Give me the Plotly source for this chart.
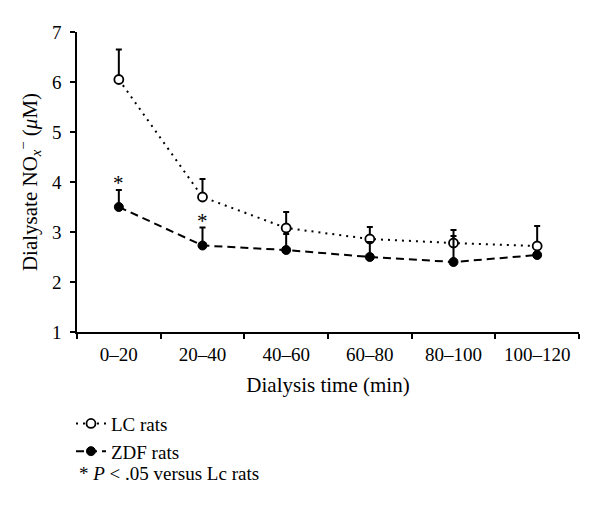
import plotly.graph_objects as go

categories = ["0–20", "20–40", "40–60", "60–80", "80–100", "100–120"]
lc_mean = [6.05, 3.70, 3.08, 2.86, 2.78, 2.72]
lc_err = [0.60, 0.36, 0.32, 0.24, 0.26, 0.40]
zdf_mean = [3.50, 2.73, 2.64, 2.50, 2.40, 2.54]
zdf_err = [0.34, 0.36, 0.32, 0.30, 0.52, 0.0]
sig_points = ["0–20", "20–40"]

FONT = "Liberation Serif"
fig = go.Figure()

fig.add_trace(go.Scatter(
    x=categories, y=lc_mean, name="LC rats", mode="lines+markers",
    line=dict(color="black", width=2, dash="2px,5px"),
    marker=dict(symbol="circle", size=9, color="white", line=dict(color="black", width=1.8)),
    error_y=dict(type="data", array=lc_err, arrayminus=[0]*len(lc_err), symmetric=False,
                 color="black", thickness=2, width=3),
))
fig.add_trace(go.Scatter(
    x=categories, y=zdf_mean, name="ZDF rats", mode="lines+markers",
    line=dict(color="black", width=2, dash="8px,5px"),
    marker=dict(symbol="circle", size=9, color="black", line=dict(color="black", width=1)),
    error_y=dict(type="data", array=zdf_err, arrayminus=[0]*len(zdf_err), symmetric=False,
                 color="black", thickness=2, width=3),
))

annotations = []
for c in sig_points:
    i = categories.index(c)
    annotations.append(dict(x=c, y=zdf_mean[i] + zdf_err[i], xref="x", yref="y",
                            text="*", showarrow=False, yanchor="bottom",
                            font=dict(family=FONT, size=21, color="black"), yshift=-7))
annotations.append(dict(x=0, y=-0.472, xref="paper", yref="paper", xanchor="left", yanchor="middle",
                        text="* <i>P</i> < .05 versus Lc rats", showarrow=False,
                        font=dict(family=FONT, size=19, color="black")))

fig.update_layout(
    width=600, height=507,
    margin=dict(l=77, r=21, t=32, b=175),
    paper_bgcolor="white", plot_bgcolor="white",
    font=dict(family=FONT, size=19, color="black"),
    showlegend=True,
    legend=dict(x=-0.012, y=-0.242, xanchor="left", yanchor="top", bgcolor="rgba(0,0,0,0)",
                font=dict(family=FONT, size=19), tracegroupgap=0, itemwidth=30),
    annotations=annotations,
    xaxis=dict(
        type="category", tickson="boundaries", ticks="outside", ticklen=5, tickwidth=1.5,
        tickcolor="black", showline=True, linecolor="black", linewidth=1.5, showgrid=False,
        tickfont=dict(family=FONT, size=19), range=[-0.5, 5.5], automargin=False,
        ticklabelstandoff=4,
        title=dict(text="Dialysis time (min)", font=dict(family=FONT, size=21), standoff=14),
    ),
    yaxis=dict(
        range=[1, 7], dtick=1, ticks="outside", ticklen=5, tickwidth=1.5, tickcolor="black",
        showline=True, linecolor="black", linewidth=1.5, showgrid=False, zeroline=False,
        tickfont=dict(family=FONT, size=19), automargin=False, ticklabelstandoff=5,
        title=dict(text="Dialysate NO<sub><i>x</i></sub><sup>−</sup> (<i>μ</i>M)",
                   font=dict(family=FONT, size=21), standoff=9),
    ),
)

fig.write_html("out.html", config={"displayModeBar": False},
               post_script="document.body.style.margin='0';document.body.style.overflow='hidden';")
